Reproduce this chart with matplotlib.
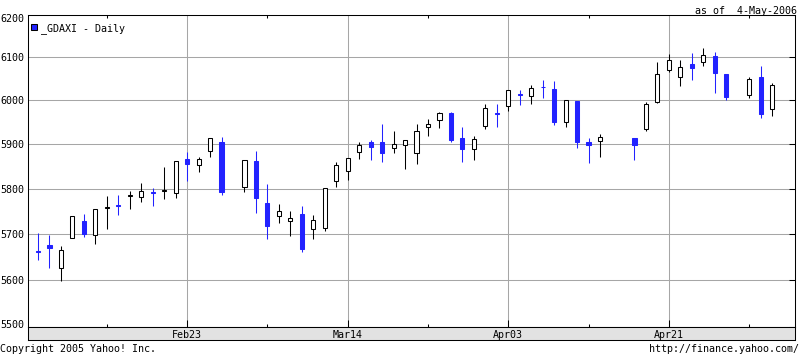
import matplotlib
matplotlib.use("Agg")
import matplotlib.pyplot as plt
from matplotlib.ticker import FixedLocator, NullLocator, NullFormatter
from matplotlib.patches import Rectangle
import matplotlib.transforms as mtransforms

# ---------------- data ----------------
# trading-day slot index (gaps = market holidays / missing days)
day_index = list(range(0, 17)) + list(range(18, 50)) + list(range(52, 61)) + list(range(62, 65))

opens = [5663, 5677, 5625, 5692, 5728, 5697, 5757, 5763, 5784, 5781, 5793, 5795, 5791, 5866, 5854, 5885, 5906,
         5804, 5861, 5769, 5740, 5729, 5743, 5710, 5713, 5818, 5839, 5883, 5904, 5904, 5892, 5899, 5881,
         5940, 5954, 5970, 5913, 5890, 5941, 5970, 5986, 6014, 6011, 6032, 6026, 5950, 5998, 5906, 5908,
         5913, 5934, 5996, 6070, 6055, 6085, 6088, 6103, 6061,
         6012, 6054, 5980]
highs = [5702, 5697, 5674, 5740, 5743, 5754, 5784, 5787, 5794, 5813, 5801, 5849, 5861, 5882, 5871, 5913, 5916,
         5865, 5885, 5810, 5767, 5750, 5761, 5741, 5802, 5859, 5868, 5904, 5909, 5946, 5931, 5910, 5947,
         5958, 5973, 5974, 5938, 5919, 5991, 5992, 6023, 6024, 6035, 6047, 6045, 6002, 5998, 5915, 5924,
         5915, 5996, 6088, 6107, 6094, 6110, 6121, 6112, 6061,
         6054, 6080, 6041]
lows = [5644, 5625, 5597, 5692, 5693, 5679, 5712, 5741, 5756, 5770, 5762, 5776, 5779, 5817, 5837, 5870, 5787,
        5792, 5746, 5688, 5724, 5696, 5660, 5689, 5706, 5804, 5820, 5867, 5864, 5860, 5880, 5844, 5855,
        5919, 5937, 5906, 5860, 5865, 5934, 5940, 5976, 5989, 5992, 6006, 5943, 5940, 5891, 5858, 5871,
        5864, 5931, 5995, 6066, 6033, 6048, 6079, 6018, 6002,
        6005, 5960, 5965]
closes = [5660, 5669, 5664, 5740, 5699, 5754, 5759, 5761, 5786, 5794, 5791, 5797, 5861, 5855, 5867, 5913, 5792,
          5865, 5779, 5717, 5751, 5736, 5668, 5730, 5802, 5852, 5868, 5897, 5894, 5880, 5901, 5910, 5931,
          5946, 5970, 5909, 5888, 5912, 5982, 5968, 6023, 6012, 6028, 6030, 5951, 6002, 5905, 5897, 5917,
          5898, 5991, 6061, 6093, 6077, 6076, 6105, 6064, 6007,
          6049, 5968, 6036]

y_ticks = [5500, 5600, 5700, 5800, 5900, 6000, 6100, 6200]
x_major_pos = [13, 27, 41, 55]
x_major_labels = ["Feb23", "Mar14", "Apr03", "Apr21"]
x_minor_pos = [6, 20, 34, 48, 62]

title_text = "_GDAXI - Daily"
asof_text = "as of  4-May-2006"
copyright_text = "Copyright 2005 Yahoo! Inc."
url_text = "http://finance.yahoo.com/"

# ---------------- style ----------------
W, H = 800, 355
BLUE = "#2222ff"
GRID = "#a6a6a6"
BAND = "#e2e2e2"
LW = 0.75
FONT = "DejaVu Sans Mono"
FS = 7.2

plt.rcParams["font.family"] = [FONT]

fig = plt.figure(figsize=(W / 100, H / 100), dpi=100)
fig.patch.set_facecolor("white")

left_px, right_px, top_px, bot_px, band_bot_px = 28, 795, 15, 327, 340
ax = fig.add_axes([left_px / W, (H - bot_px) / H, (right_px - left_px) / W, (bot_px - top_px) / H])
band = fig.add_axes([left_px / W, (H - band_bot_px) / H, (right_px - left_px) / W, (band_bot_px - bot_px) / H])

xlo = (left_px - 38) / 11.47
xhi = (right_px - 38) / 11.47

ax.set_yscale("log")
ax.set_ylim(5500, 6200)
ax.set_xlim(xlo, xhi)
band.set_xlim(xlo, xhi)
band.set_ylim(0, 1)
band.set_facecolor(BAND)
band.set_xticks([])
band.set_yticks([])

for a in (ax, band):
    for s in a.spines.values():
        s.set_linewidth(LW)
        s.set_color("black")

# grid
ax.yaxis.set_major_locator(FixedLocator(y_ticks))
ax.yaxis.set_minor_locator(NullLocator())
ax.yaxis.set_major_formatter(NullFormatter())
ax.yaxis.set_minor_formatter(NullFormatter())
ax.xaxis.set_major_locator(FixedLocator(x_major_pos))
ax.xaxis.set_minor_locator(FixedLocator(x_minor_pos))
ax.xaxis.set_major_formatter(NullFormatter())
ax.grid(True, which="major", color=GRID, linewidth=LW, zorder=0)
ax.set_axisbelow(True)
ax.tick_params(axis="y", which="major", left=False, right=True, direction="in",
               length=4, width=LW, color="black", labelleft=False)
ax.tick_params(axis="x", which="major", bottom=True, top=False, direction="in",
               length=5, width=LW, color="black", labelbottom=False)
ax.tick_params(axis="x", which="minor", bottom=True, top=True, direction="in",
               length=2.5, width=LW, color="black")

# y labels
ylab_trans = mtransforms.blended_transform_factory(fig.transFigure, ax.transData)
for t in y_ticks:
    off = -1
    if t == 6200:
        off = -4.5
    elif t == 5500:
        off = 1.5
    tr = ylab_trans + mtransforms.ScaledTranslation(0, off / 100, fig.dpi_scale_trans)
    fig.text(24.5 / W, t, str(t), transform=tr, ha="right", va="center",
             fontsize=FS, family=FONT, color="black")

# x labels in band
for p, lab in zip(x_major_pos, x_major_labels):
    band.text(p, 0.16, lab, ha="center", va="baseline", fontsize=FS, family=FONT, color="black")

# candles
body_w = 0.36
for x, o, h, l, c in zip(day_index, opens, highs, lows, closes):
    up = c >= o
    col = "black" if up else BLUE
    ax.vlines(x, l, h, color=col, linewidth=LW, zorder=2)
    lo_b, hi_b = min(o, c), max(o, c)
    if hi_b - lo_b < 1.5:
        hi_b = lo_b + 1.5
    ax.bar(x, hi_b - lo_b, bottom=lo_b, width=body_w,
           color=("white" if up else BLUE), edgecolor=col, linewidth=LW, zorder=3)

# legend
ax.add_patch(Rectangle(((31 - left_px) / (right_px - left_px), 1 - (30 - top_px) / (bot_px - top_px)),
                       6 / (right_px - left_px), 6 / (bot_px - top_px),
                       transform=ax.transAxes, facecolor=BLUE, edgecolor="black",
                       linewidth=LW, zorder=5, clip_on=False))
ax.text((41 - left_px) / (right_px - left_px), 1 - (31 - top_px) / (bot_px - top_px), title_text,
        transform=ax.transAxes, ha="left", va="baseline", fontsize=FS, family=FONT, zorder=5)

# header / footer
fig.text(797 / W, (H - 13.5) / H, asof_text, ha="right", va="baseline", fontsize=FS, family=FONT)
fig.text(0 / W, (H - 351.5) / H, copyright_text, ha="left", va="baseline", fontsize=FS, family=FONT)
fig.text(799 / W, (H - 351.5) / H, url_text, ha="right", va="baseline", fontsize=FS, family=FONT)

fig.savefig("out.png", dpi=100, facecolor="white")
